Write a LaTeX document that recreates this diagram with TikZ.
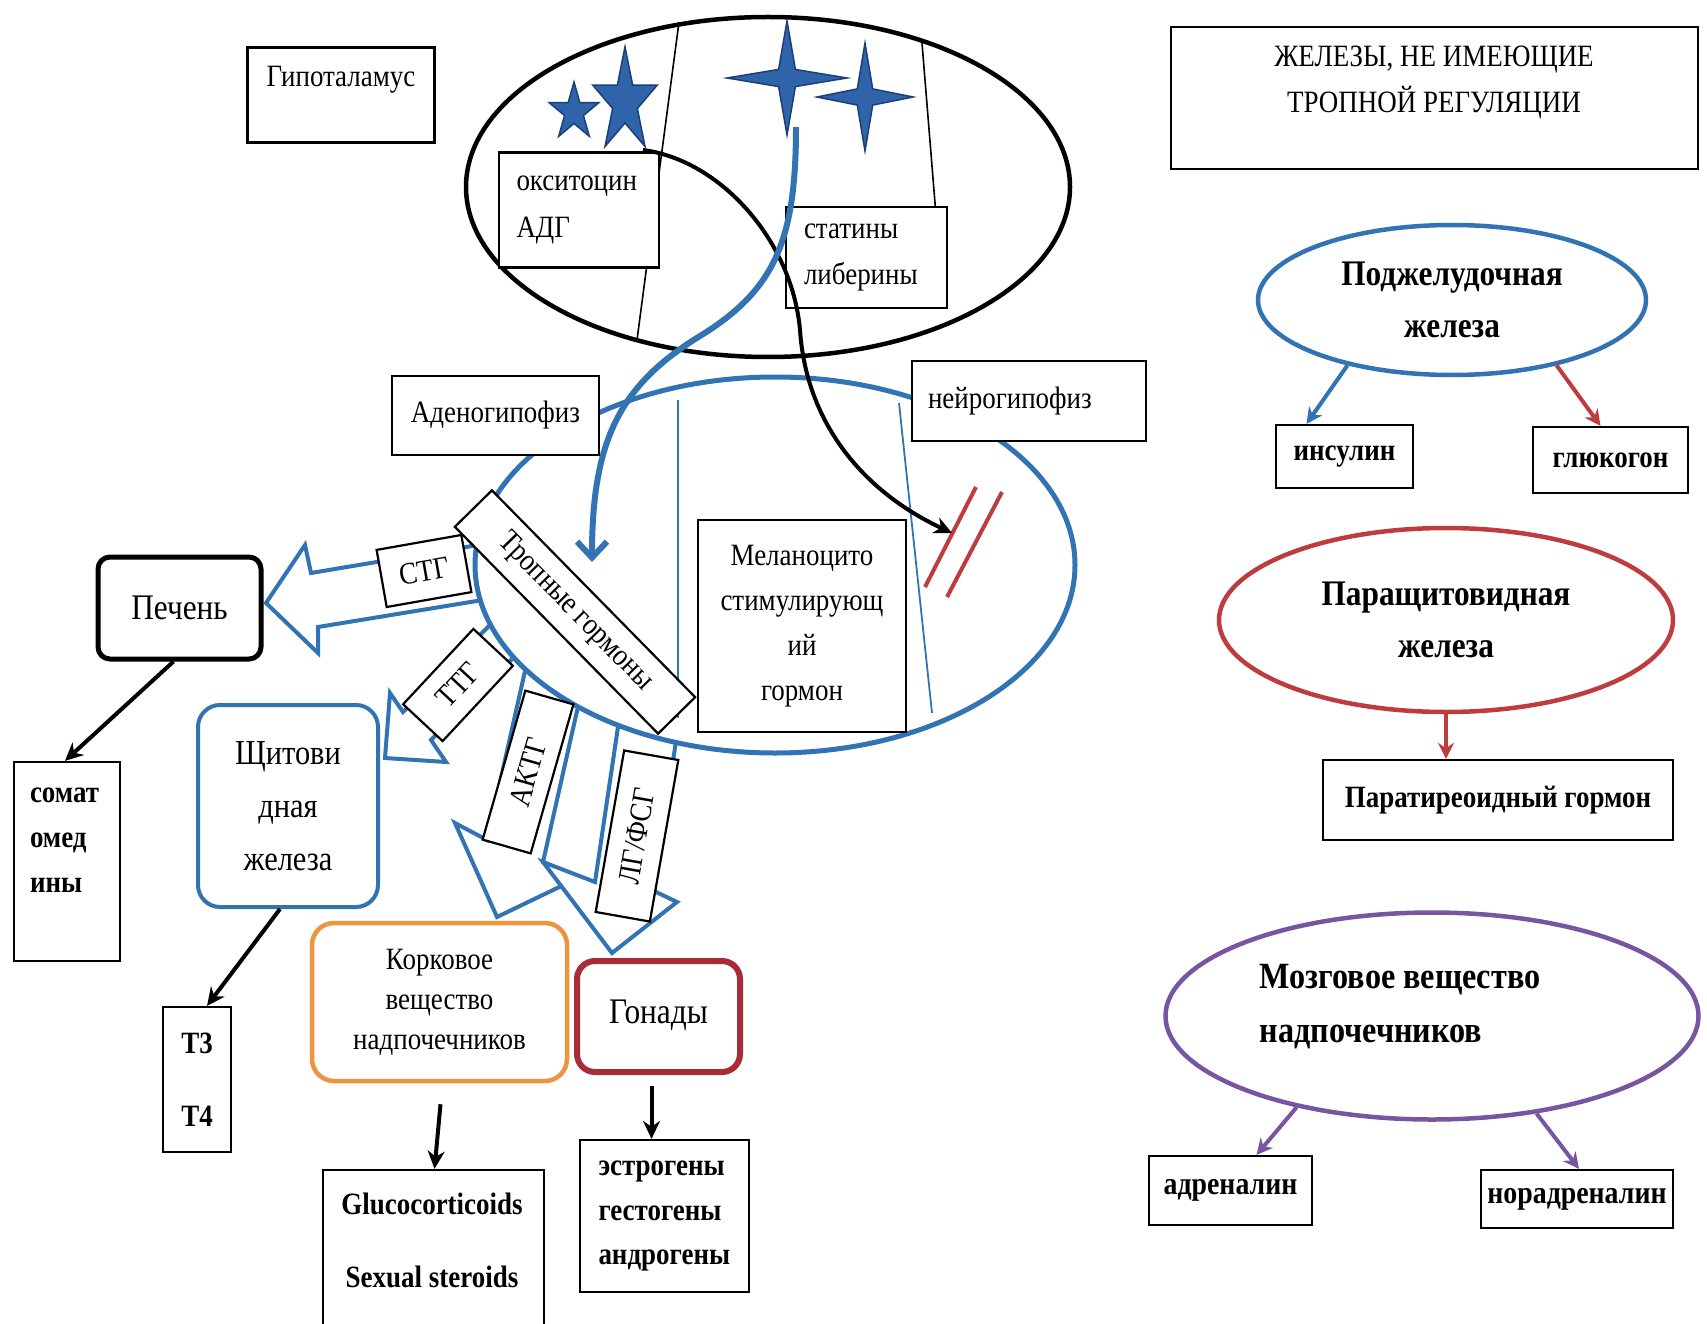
\documentclass[tikz,border=0pt]{standalone}
\usepackage{fontspec}
\setmainfont{Liberation Serif}[FakeStretch=0.87]
\usetikzlibrary{shapes.geometric,arrows.meta}
\definecolor{bluec}{RGB}{50,115,180}
\definecolor{starfill}{RGB}{48,100,170}
\definecolor{stardraw}{RGB}{28,62,118}
\definecolor{redc}{RGB}{190,60,62}
\definecolor{gonred}{RGB}{168,44,55}
\definecolor{orangec}{RGB}{236,148,62}
\definecolor{purplec}{RGB}{120,85,160}
\newcommand\fz[2]{\fontsize{#1}{#2}\selectfont}
\begin{document}
\begin{tikzpicture}[x=1pt,y=-1pt,
  bx/.style={draw=black, line width=2.2pt, fill=white, inner sep=0pt, font=\fz{31}{37}},
  txt/.style={inner sep=0pt, font=\fz{31}{37}},
  barr/.style={draw=bluec, line width=4pt, fill=white, line join=miter},
  starsty/.style={fill=starfill, draw=stardraw, line width=1.5pt, line join=miter},
  karrow/.style={line width=4pt, -{Stealth[length=18pt,width=17pt]}},
  carrow/.style={line width=4pt, -{Stealth[length=16pt,width=16pt]}},
  ell/.style={ellipse, inner sep=0pt, line width=4.5pt}]
\useasboundingbox (0,0) rectangle (1707,1324);
\fill[white] (0,0) rectangle (1707,1324);

% ---------------- hypothalamus ----------------
\node[bx, minimum width=187pt, minimum height=95pt] (hyp) at (341,95) {};
\node[txt] (hypt) at (341,80) {Гипоталамус};

\node[ell, draw=black, line width=4.5pt, minimum width=604pt, minimum height=340pt] (hypell) at (768,187) {};
\draw[line width=1.6pt] (679,22) -- (637,340);
\draw[line width=1.6pt] (922,43) -- (938,240);

\node[bx, minimum width=160pt, minimum height=115pt, font=\fz{31}{47}, align=left, text width=125pt] (oxy) at (579,210) {окситоцин\\АДГ};
\node[bx, minimum width=161pt, minimum height=101pt, font=\fz{31}{46}, align=left, text width=125pt] (stat) at (866.5,257.5) {статины\\либерины};

% stars
\begin{scope}[shift={(574,112)}, x=26pt, y=30pt]
\draw[starsty] (0,1) -- (-0.2245,0.309) -- (-0.951,0.309) -- (-0.363,-0.118) -- (-0.588,-0.809) -- (0,-0.382) -- (0.588,-0.809) -- (0.363,-0.118) -- (0.951,0.309) -- (0.2245,0.309) -- cycle;
\end{scope}
\begin{scope}[shift={(625,102)}, x=34pt, y=55pt]
\draw[starsty] (0,1) -- (-0.2245,0.309) -- (-0.951,0.309) -- (-0.363,-0.118) -- (-0.588,-0.809) -- (0,-0.382) -- (0.588,-0.809) -- (0.363,-0.118) -- (0.951,0.309) -- (0.2245,0.309) -- cycle;
\end{scope}
\begin{scope}[shift={(787,78)}, x=60pt, y=57pt]
\draw[starsty] (0,1) -- (0.14,0.15) -- (1,0) -- (0.14,-0.15) -- (0,-1) -- (-0.14,-0.15) -- (-1,0) -- (-0.14,0.15) -- cycle;
\end{scope}
\begin{scope}[shift={(865,97)}, x=48pt, y=54pt]
\draw[starsty] (0,1) -- (0.16,0.15) -- (1,0) -- (0.16,-0.15) -- (0,-1) -- (-0.16,-0.15) -- (-1,0) -- (-0.16,0.15) -- cycle;
\end{scope}

% ---------------- block arrows ----------------
\draw[barr] (490,543) -- (311,573) -- (305,545) -- (266,603) -- (318,653) -- (318,627) -- (495,598);
\draw[barr] (497,618) -- (403,712) -- (390,693) -- (385,758) -- (446,762) -- (431,740) -- (525,646);
\draw[barr] (532,640) -- (487,840) -- (455,823) -- (497,917) -- (578,878) -- (543,862) -- (593,640);
\draw[barr] (622,700) -- (595,882) -- (543,862) -- (612,953) -- (677,902) -- (654,891) -- (682,700);

% ---------------- pituitary ----------------
\node[ell, draw=bluec, line width=5pt, fill=white, minimum width=600pt, minimum height=376pt] (pit) at (775,565) {};
\draw[bluec, line width=1.8pt] (678,400) -- (678,718);
\draw[bluec, line width=1.8pt] (899,403) -- (932,713);
\draw[redc, line width=4pt] (925,587) -- (976,487);
\draw[redc, line width=4pt] (947,597) -- (1002,492);

\node[bx, minimum width=208pt, minimum height=212pt, font=\fz{31}{45}, align=center] (mel) at (802,626) {Меланоцито\\стимулирующ\\ий\\гормон};
\node[bx, minimum width=207pt, minimum height=79pt] (aden) at (495.5,415.5) {Аденогипофиз};
\node[bx, minimum width=234pt, minimum height=80pt, align=left, text width=202pt] (neur) at (1029,401) {нейрогипофиз};

\node[bx, rotate=-45.5, minimum width=290pt, minimum height=52pt] (trop) at (575,612) {Тропные гормоны};
\node[bx, rotate=10, minimum width=86pt, minimum height=58pt] (stg) at (424,571) {СТГ};
\node[bx, rotate=47, minimum width=103pt, minimum height=54pt] (ttg) at (458,685) {ТТГ};
\node[bx, rotate=74, minimum width=155pt, minimum height=50pt] (aktg) at (528,772) {АКТГ};
\node[bx, rotate=80, minimum width=164pt, minimum height=55pt] (lg) at (637,836) {ЛГ/ФСГ};

% ---------------- curves ----------------
\coordinate (s5b) at (643,150);
\coordinate (redhit) at (952,533);
\coordinate (s4b) at (796,127);
\coordinate (adtip) at (592,562);
\draw[karrow] (s5b) .. controls (720,160) and (792,240) .. (800,330) .. controls (806,420) and (860,490) .. (redhit);
\draw[bluec, line width=6pt, -{Straight Barb[length=16pt,width=30pt]}] (s4b) .. controls (796,240) and (775,290) .. (700,336) .. controls (620,385) and (592,440) .. (adtip);

% ---------------- targets ----------------
\node[bx, rounded corners=12pt, line width=5pt, minimum width=163pt, minimum height=102pt, font=\fz{36}{40}] (pech) at (179.5,608) {Печень};
\node[bx, minimum width=106pt, minimum height=199pt] (som) at (67,861.5) {};
\node[txt, align=left, text width=80pt, font=\bfseries\fz{31}{45}] (somt) at (70,840) {сомат\\омед\\ины};
\draw[karrow] ([xshift=-6pt]pech.south) -- ([xshift=-2pt]som.north);

\node[bx, draw=bluec, line width=4pt, rounded corners=22pt, minimum width=180pt, minimum height=202pt, font=\fz{35}{53}, align=center] (shch) at (288,806) {Щитови\\дная\\железа};
\node[bx, minimum width=68pt, minimum height=145pt, font=\bfseries\fz{31}{73}, align=center] (t34) at (197,1079.5) {T3\\T4};
\draw[karrow] ([xshift=-8pt]shch.south) -- ([xshift=10pt]t34.north);

\node[bx, draw=orangec, line width=4.5pt, rounded corners=22pt, minimum width=255pt, minimum height=158pt, font=\fz{31}{40}, align=center] (kork) at (439.5,1002) {Корковое\\вещество\\надпочечников};
\node[bx, draw=gonred, line width=6pt, rounded corners=18pt, minimum width=163pt, minimum height=111pt, font=\fz{36}{40}] (gon) at (658.5,1016.5) {\raisebox{9pt}{Гонады}};

\node[bx, minimum width=221pt, minimum height=170pt] (gluc) at (433.5,1255) {};
\node[txt, font=\bfseries\fz{31}{73}, align=center] (glut) at (432,1240) {Glucocorticoids\\Sexual steroids};
\draw[karrow] ([xshift=1pt,yshift=-21pt]kork.south) -- ([xshift=1pt]gluc.north);

\node[bx, minimum width=169pt, minimum height=152pt, font=\bfseries\fz{31}{44.5}, align=left, text width=132pt] (estr) at (664.5,1216) {эстрогены\\гестогены\\андрогены};
\draw[karrow] ([xshift=-7pt,yshift=-11pt]gon.south) -- ([xshift=-13pt]estr.north);

% ---------------- right column ----------------
\node[bx, minimum width=527pt, minimum height=142pt] (title) at (1434.5,98) {};
\node[txt, font=\fz{31}{46}, align=center] (titlet) at (1434,83) {ЖЕЛЕЗЫ, НЕ ИМЕЮЩИЕ\\ТРОПНОЙ РЕГУЛЯЦИИ};

\node[ell, draw=bluec, minimum width=388pt, minimum height=150pt, font=\bfseries\fz{36}{52}, align=center] (panc) at (1452,300) {Поджелудочная\\железа};
\node[bx, minimum width=137pt, minimum height=63pt, font=\bfseries\fz{31}{37}] (ins) at (1344.5,456.5) {инсулин};
\node[bx, minimum width=155pt, minimum height=66pt, font=\bfseries\fz{31}{37}] (glu) at (1610.5,460) {глюкогон};
\draw[carrow, bluec] (panc.212) -- ([xshift=-38pt]ins.north);
\draw[carrow, redc] (panc.-32.5) -- ([xshift=-10pt]glu.north);

\node[ell, draw=redc, minimum width=454pt, minimum height=184pt, font=\bfseries\fz{36}{52}, align=center] (para) at (1446,620) {Паращитовидная\\железа};
\node[bx, minimum width=350pt, minimum height=80pt, font=\bfseries\fz{31}{37}] (ptg) at (1498,800) {Паратиреоидный гормон};
\draw[carrow, redc] (para.south) -- (para.south |- ptg.north);

\node[ell, draw=purplec, minimum width=533pt, minimum height=207pt] (med) at (1432,1016) {};
\node[txt, font=\bfseries\fz{37}{54}, align=left] (medt) at (1400,1007) {Мозговое вещество\\надпочечников};
\node[bx, minimum width=163pt, minimum height=69pt, font=\bfseries\fz{32}{37}] (adr) at (1230.5,1190.5) {адреналин};
\node[bx, minimum width=192pt, minimum height=58pt, font=\bfseries\fz{32}{37}] (nor) at (1577,1199) {норадреналин};
\draw[carrow, purplec] (med.214) -- ([xshift=26pt]adr.north);
\draw[carrow, purplec] (med.-43) -- ([xshift=2pt]nor.north);
\end{tikzpicture}
\end{document}
